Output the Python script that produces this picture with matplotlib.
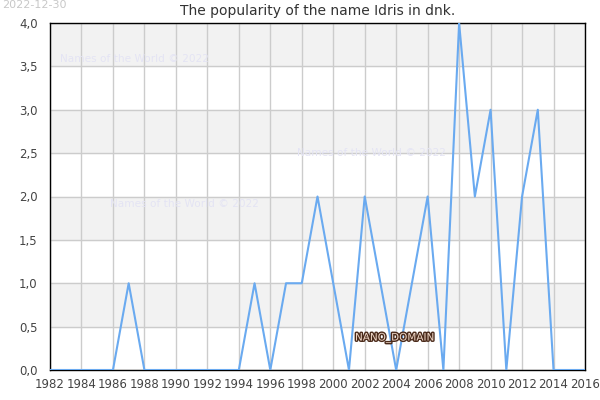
import matplotlib
matplotlib.use("Agg")
import matplotlib.pyplot as plt
import matplotlib.patheffects as pe
from matplotlib.ticker import FuncFormatter

years = list(range(1982, 2017))
counts = [0, 0, 0, 0, 0, 1, 0, 0, 0, 0, 0, 0, 0, 1, 0, 1, 1, 2, 1, 0,
          2, 1, 0, 1, 2, 0, 4, 2, 3, 0, 2, 3, 0, 0, 0]
title = "The popularity of the name Idris in dnk."

fig = plt.figure(figsize=(6, 4), dpi=100)
ax = fig.add_axes([50 / 600, 30 / 400, 535 / 600, 347 / 400])

# alternating bands
for lo in [0.5, 1.5, 2.5, 3.5]:
    ax.axhspan(lo, lo + 0.5, color="#f2f2f2", zorder=0)

ax.plot(years, counts, color="#6aaaf0", lw=1.5, zorder=3)

ax.set_xlim(1982, 2016)
ax.set_ylim(0, 4)
ax.set_xticks(range(1982, 2017, 2))
ax.set_yticks([i * 0.5 for i in range(9)])
ax.yaxis.set_major_formatter(FuncFormatter(lambda v, p: f"{v:.1f}".replace(".", ",")))
ax.grid(True, color="#cccccc", lw=1, zorder=1)
ax.set_axisbelow(True)
ax.tick_params(labelsize=8.5, colors="#444444", length=0)
ax.tick_params(axis="y", pad=9)
ax.tick_params(axis="x", pad=6)
for s in ax.spines.values():
    s.set_color("black")
    s.set_linewidth(1.0)

ax.set_title(title, fontsize=10, color="#333333", pad=6)

wm = dict(fontsize=7.6, color="#e4e4f4", zorder=2)
fig.text(60 / 600, 1 - 59 / 400, "Names of the World © 2022", va="center", **wm)
fig.text(110 / 600, 1 - 204 / 400, "Names of the World © 2022", va="center", **wm)
fig.text(297 / 600, 1 - 153 / 400, "Names of the World © 2022", va="center", **wm)
fig.text(2 / 600, 1 - 5 / 400, "2022-12-30", va="center", fontsize=8, color="#c8c8c8")
t = fig.text(355 / 600, 1 - 338 / 400, "NANO_DOMAIN", va="center", fontsize=7.5,
             color="#f0d8c8", zorder=5)
t.set_path_effects([pe.withStroke(linewidth=2, foreground="#4a2a1a")])

fig.savefig("out.png", dpi=100)
